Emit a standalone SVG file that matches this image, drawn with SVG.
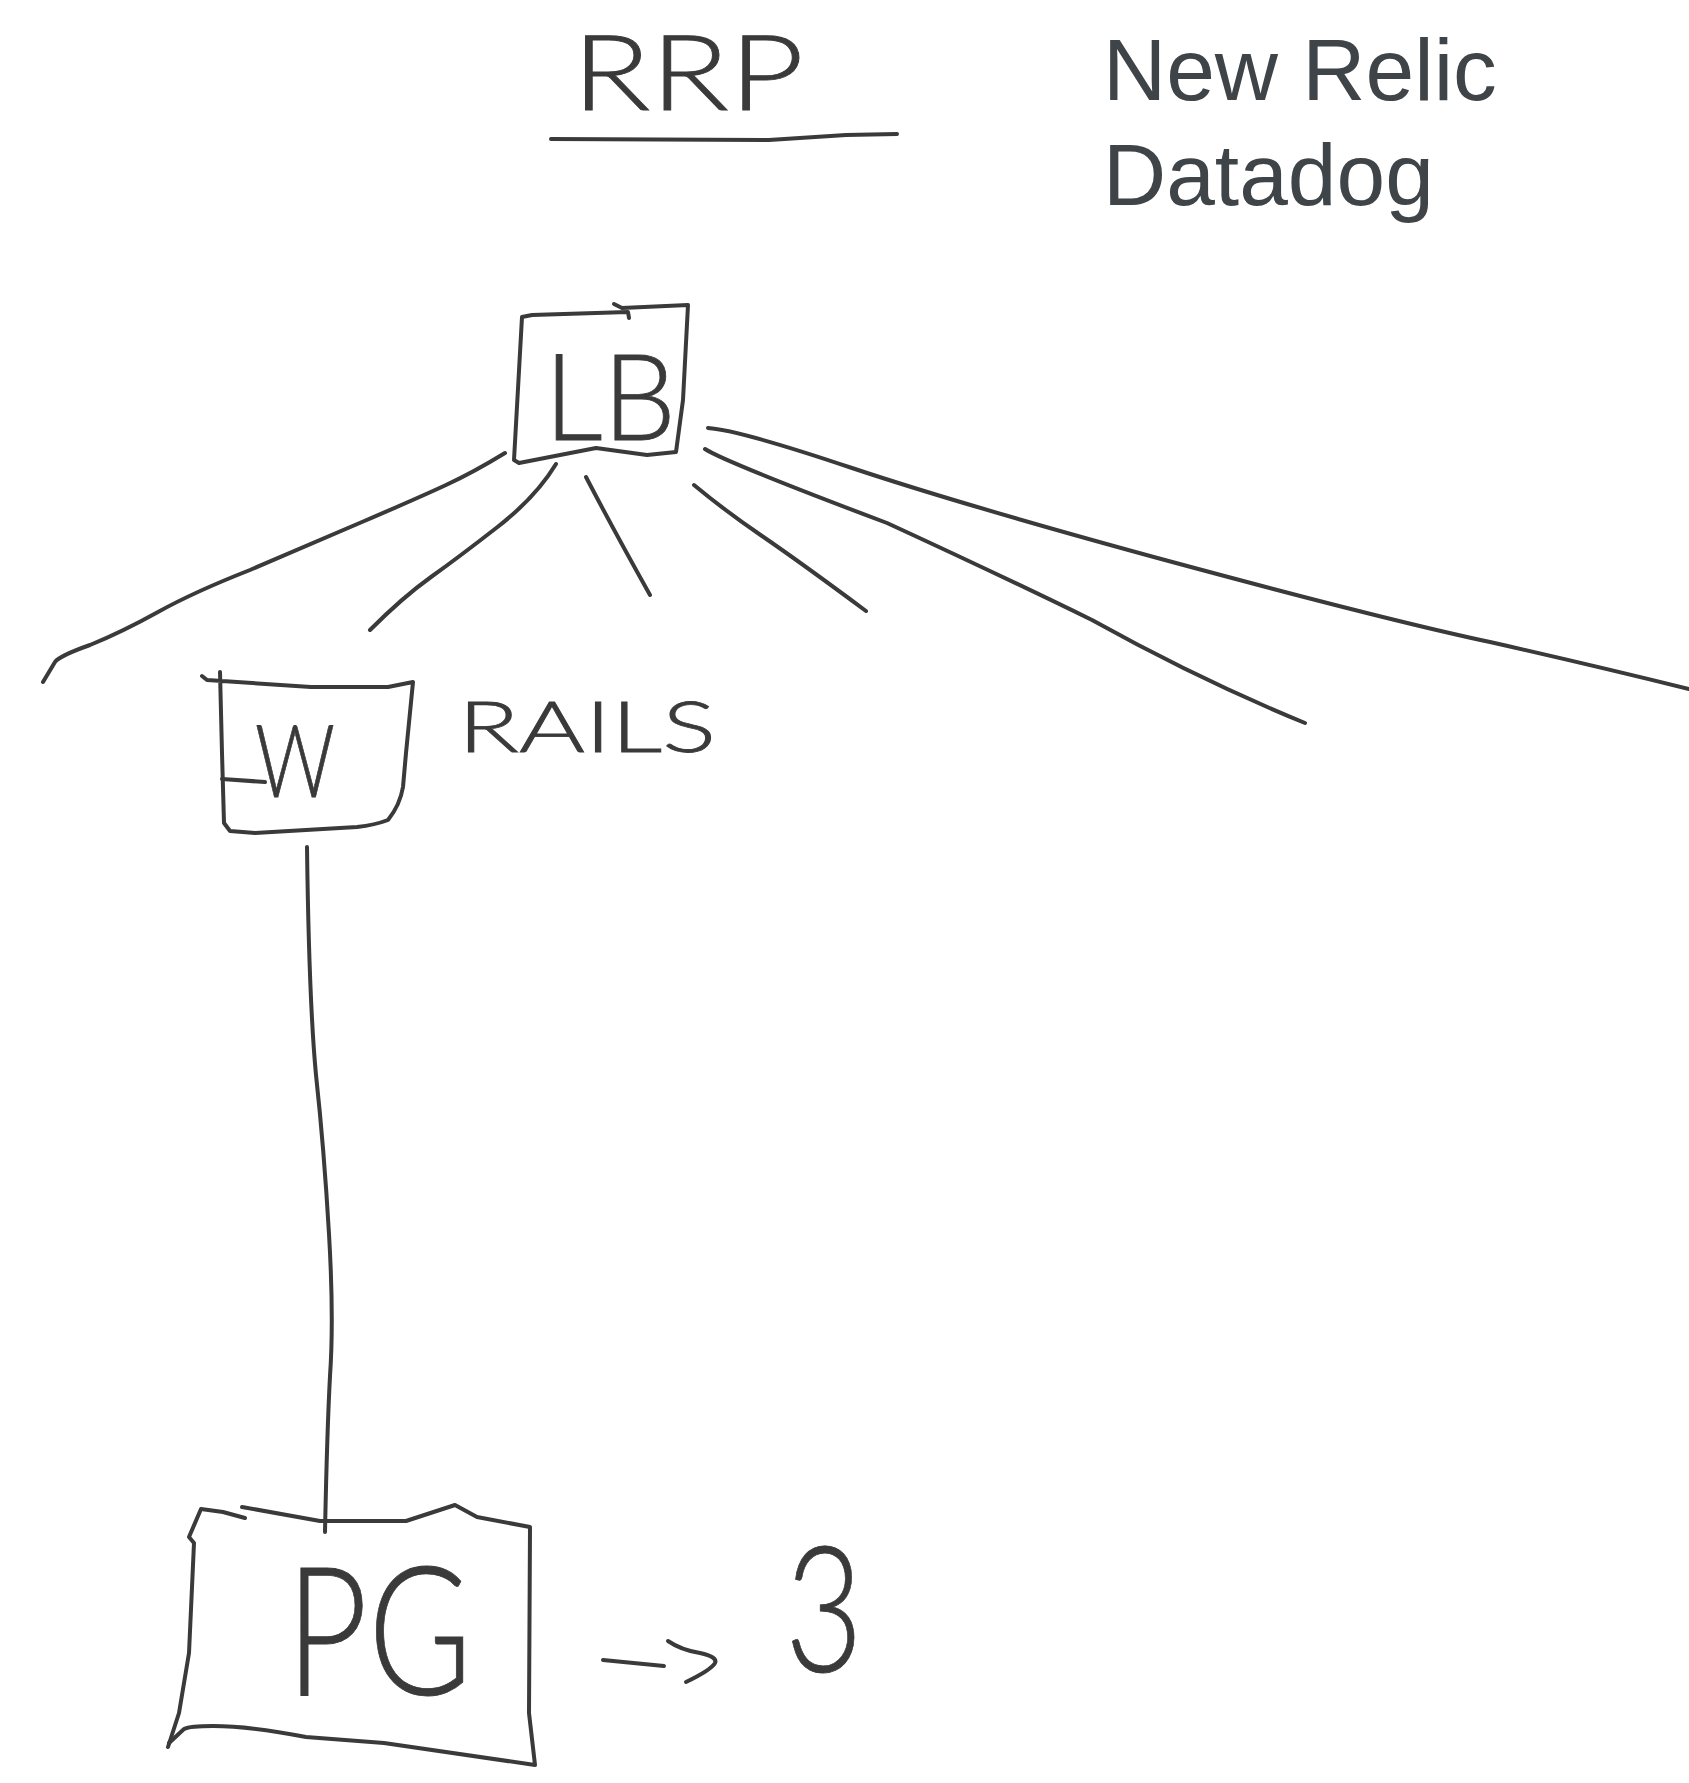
<svg xmlns="http://www.w3.org/2000/svg" width="1689" height="1783" viewBox="0 0 1689 1783">
<style>
.ink{fill:none;stroke:#3a3a3a;stroke-width:4;stroke-linecap:round;stroke-linejoin:round}
.hw{font-family:"Lato","Liberation Sans",sans-serif;font-weight:300;fill:#3a3a3a;stroke:#3a3a3a;stroke-width:0.8}
.typed{font-family:"Liberation Sans",Arial,sans-serif;font-size:87.5px;fill:#3f4448}
</style>
<rect width="1689" height="1783" fill="#ffffff"/>
<g id="title">
<text class="hw" x="572" y="110" font-size="104" textLength="232" lengthAdjust="spacingAndGlyphs">RRP</text>
<path class="ink" d="M551 139 L769 140 L846 135 L897 134"/>
</g>
<g id="tools">
<text class="typed" x="1103" y="100">New Relic</text>
<text class="typed" x="1103" y="205">Datadog</text>
</g>
<g id="connectors">
<path class="ink" d="M505 453 Q474 472 446 485 Q418 498 362 522 Q306 546 250 570 Q194 592 158 612 Q122 632 90 645 Q59 656 55 662 L43 682"/>
<path class="ink" d="M556 464 Q536 497 497.5 527 Q459 557 431 577 Q403 597 370 630"/>
<path class="ink" d="M586 477 Q612 527 650 595"/>
<path class="ink" d="M694 485 Q724 510 762 536 Q800 562 866 611"/>
<path class="ink" d="M705 449 Q725 462 887 523 Q1000 575 1092 620 Q1200 680 1305 723"/>
<path class="ink" d="M708 428 Q739 430 852 468 Q966 506 1176 563 Q1387 620 1490 642 Q1592 665 1689 689"/>
<path class="ink" d="M307 847 Q309 1001 316 1075 Q324 1148 329 1234 Q334 1319 330 1376 Q327 1433 325 1532"/>
<path class="ink" d="M603 1660 L664 1666 M668 1641 Q681 1650 700 1653 Q718 1657 715 1663 Q711 1670 686 1682"/>
</g>
<g id="lb">
<path class="ink" d="M629 318 L628 312 L532 315 L522 317 L514 460 L519 463 L596 448 L647 455 L676 452 L683 400 L688 305 L622 308 L614 304"/>
<text class="hw" x="544" y="440" font-size="120" textLength="132" lengthAdjust="spacingAndGlyphs">LB</text>
</g>
<g id="rails">
<path class="ink" d="M202 676 L207 680 L311 687 L388 687 L413 682 L406 753 L403 787 Q400 805 388 820 Q375 825 357 827 L255 833 L230 831 L224 823 L222 753 L220 672"/>
<path class="ink" d="M222 779 L265 782"/>
<text class="hw" x="255" y="797" font-size="100" textLength="80" lengthAdjust="spacingAndGlyphs">W</text>
<text class="hw" x="458" y="752" font-size="70" textLength="258" lengthAdjust="spacingAndGlyphs">RAILS</text>
</g>
<g id="pg">
<path class="ink" d="M245 1518 L223 1512 L201 1509 L189 1537 L194 1543 L189 1653 L179 1713 L168 1747"/>
<path class="ink" d="M242 1507 L320 1521 L406 1521 L455 1505 L477 1517 L530 1527 L529 1713 L535 1765 L384 1743 L306 1737 Q250 1726 213 1726 Q190 1726 184 1729 L169 1743"/>
<text class="hw" x="286" y="1695" font-size="180" textLength="186" lengthAdjust="spacingAndGlyphs">PG</text>
<text class="hw" x="785" y="1672" font-size="175" textLength="78" lengthAdjust="spacingAndGlyphs">3</text>
</g>
</svg>
